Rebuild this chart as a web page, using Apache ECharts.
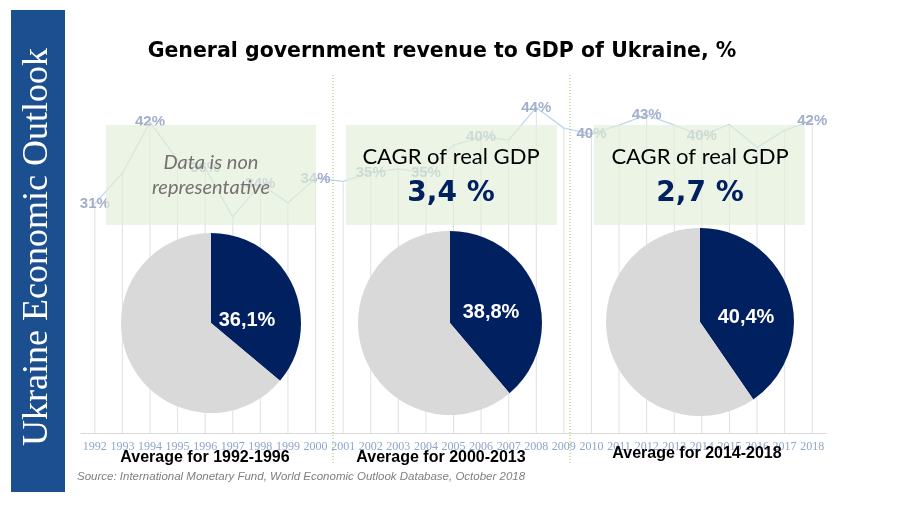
<!DOCTYPE html>
<html><head><meta charset="utf-8">
<script src="https://cdn.jsdelivr.net/npm/echarts@6/dist/echarts.min.js"></script>
<style>html,body{margin:0;padding:0;background:#fff}#c{width:911px;height:505px}</style>
</head><body><div id="c"></div>
<script>
const years = ['1992','1993','1994','1995','1996','1997','1998','1999','2000','2001','2002','2003','2004','2005','2006','2007','2008','2009','2010','2011','2012','2013','2014','2015','2016','2017','2018'];
const revenue = [31.0,35.1,42.0,36.9,35.8,29.2,33.7,31.1,34.4,34.0,35.2,35.7,35.2,38.9,40.0,39.6,44.0,41.2,40.4,41.6,43.0,41.6,40.2,41.7,38.6,40.9,42.2];
const labeledYears = ['1992','1994','1996','1998','2000','2002','2004','2006','2008','2010','2012','2014','2018'];
const periods = ['1992-1996','2000-2013','2014-2018'];
const periodShares = [36.1, 38.8, 40.4];
const cagrTexts = ['', '3,4 %', '2,7 %'];
const title = 'General government revenue to GDP of Ukraine, %';
const sourceText = 'Source: International Monetary Fund, World Economic Outlook Database, October 2018';

const chart = echarts.init(document.getElementById('c'));
const navy = '#002060';

const pieCenters = [[211,323],[450,323],[700,322]];
const pieRadii = [90,92,94];
const pieLabelShift = [[36,3],[41,10.5],[46,5]];

const pieSeries = periodShares.map((s,i)=>({
  type:'pie', center: pieCenters[i], radius: pieRadii[i], startAngle:90, clockwise:true,
  silent:true, emphasis:{disabled:true}, labelLine:{show:false}, z:5,
  data:[
    {value:s, name:'share', itemStyle:{color:navy},
     label:{show:true, position:'center', color:'#fff', fontFamily:'Liberation Sans', fontWeight:'bold', fontSize:20,
       lineHeight:2*pieLabelShift[i][1],
       padding:[0,0,0,2*pieLabelShift[i][0]],
       formatter:p=>p.value.toFixed(1).replace('.',',')+'%\n '}},
    {value:+(100-s).toFixed(1), name:'rest', itemStyle:{color:'#d9d9d9'}, label:{show:false}}
  ]
}));

const boxes = [[106,125,210,100],[346,125,211,100],[594,125,211,100]];
const graphics = [];
const C = {align:'center', verticalAlign:'middle', textAlign:'center', textVerticalAlign:'middle'};
graphics.push({type:'rect', shape:{x:11,y:10,width:54,height:482}, style:{fill:'#1c4f8f'}, z:1});
graphics.push({type:'text', x:38, y:247, rotation:Math.PI/2, z:2,
  style:Object.assign({text:'Ukraine Economic Outlook', fill:'#fff', font:'36px "Liberation Serif"'}, C)});
graphics.push({type:'text', x:442, y:52, z:20,
  style:Object.assign({text:title, fill:'#000', font:'bold 20.5px "DejaVu Sans"'}, C)});
[333,570].forEach(x=>graphics.push({type:'line', shape:{x1:x,y1:75,x2:x,y2:465}, style:{stroke:'#9bbb59', lineWidth:1, lineDash:[1,2]}, z:20}));
boxes.forEach(b=>graphics.push({type:'rect', shape:{x:b[0],y:b[1],width:b[2],height:b[3]}, style:{fill:'rgba(226,239,217,0.68)'}, z:10}));
graphics.push({type:'text', x:211, y:163, z:20, style:Object.assign({text:'Data is non', fill:'#767171', font:'italic 20px Lato'}, C)});
graphics.push({type:'text', x:211, y:188, z:20, style:Object.assign({text:'representative', fill:'#767171', font:'italic 20px Lato'}, C)});
[[451,1],[700,2]].forEach(([cx,i])=>{
  graphics.push({type:'text', x:cx, y:157, z:20, style:Object.assign({text:'CAGR of real GDP', fill:'#000', font:'22px Lato'}, C)});
  graphics.push({type:'text', x:cx, y:194, z:20, style:Object.assign({text:cagrTexts[i], fill:navy, font:'bold 28px "DejaVu Sans"'}, C)});
});
[[205,458],[441,458],[697,454]].forEach(([x,y],i)=>graphics.push({type:'text', x:x, y:y, z:20,
  style:Object.assign({text:'Average for '+periods[i], fill:'#000', font:'bold 16px "Liberation Sans"'}, C)}));
graphics.push({type:'text', x:77, y:477, z:20, style:{text:sourceText, fill:'#7f7f7f', font:'italic 11.5px "Liberation Sans"', align:'left', verticalAlign:'middle', textAlign:'left', textVerticalAlign:'middle'}});

chart.setOption({
  animation:false,
  grid:{left:81, width:745, top:100, bottom:72},
  xAxis:{type:'category', data:years, boundaryGap:true,
    axisLine:{lineStyle:{color:'#d9d9d9'}}, axisTick:{show:false},
    axisLabel:{interval:0, margin:8, color:'#8fa5cc', fontFamily:'Liberation Serif', fontSize:12}},
  yAxis:{type:'value', min:0, max:45, show:false, splitLine:{show:false}},
  series:[
    {type:'bar', data:revenue, barWidth:1, itemStyle:{color:'#e0e0e0'}, silent:true, z:1},
    {type:'line', data:revenue.map((v,i)=>({value:v, label:{show:labeledYears.includes(years[i])}})),
      symbol:'circle', symbolSize:0.1, showSymbol:true, silent:true, z:3,
      lineStyle:{color:'#bdd7ee', width:1.3}, itemStyle:{color:'#bdd7ee'},
      label:{position:'inside', color:'#a3aecb', fontFamily:'Liberation Sans', fontWeight:'bold', fontSize:15,
        formatter:p=>Math.round(p.value)+'%'}},
    ...pieSeries
  ],
  graphic:graphics
});
</script></body></html>
